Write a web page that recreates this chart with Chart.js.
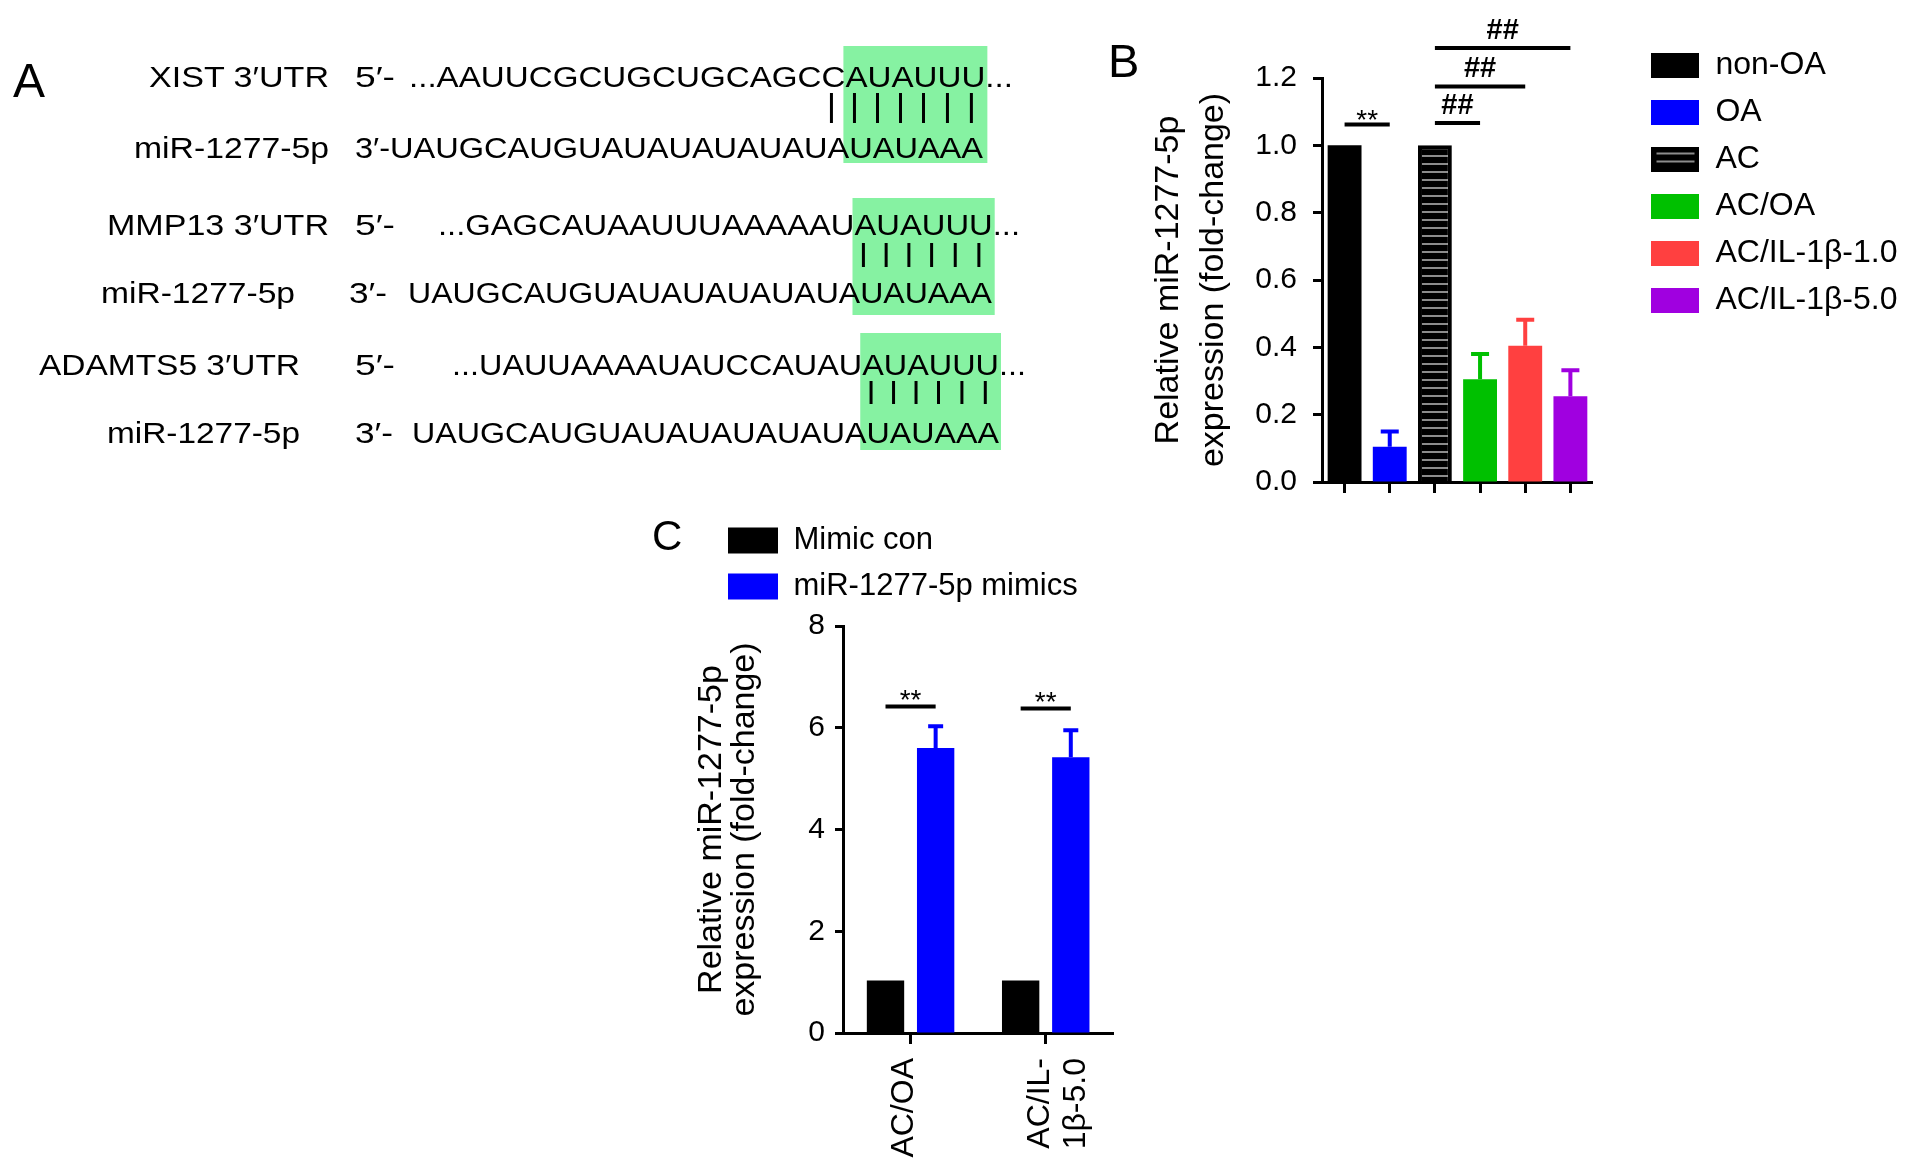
<!DOCTYPE html>
<html><head><meta charset="utf-8">
<script src="https://cdn.jsdelivr.net/npm/chart.js@4.4.1/dist/chart.umd.min.js"></script>
<style>
html,body{margin:0;padding:0;background:#fff;}
body{width:1913px;height:1172px;position:relative;overflow:hidden;}
#svgA{position:absolute;left:0;top:0;z-index:2;pointer-events:none;}
#cB{position:absolute;left:1090px;top:0;}
#cC{position:absolute;left:640px;top:500px;}
</style></head><body>
<svg id="svgA" width="1913" height="1172" xmlns="http://www.w3.org/2000/svg"></svg>
<canvas id="cB" width="823" height="530"></canvas>
<canvas id="cC" width="500" height="672"></canvas>
<script>
// ================= DATA =================
// Panel A: sequence alignment rows
const seqLabels = ['XIST 3′UTR', 'miR-1277-5p', 'MMP13 3′UTR', 'miR-1277-5p', 'ADAMTS5 3′UTR', 'miR-1277-5p'];
const seqEnds   = ['5′-', '3′-', '5′-', '3′-', '5′-', '3′-'];
const seqPre    = ['...AAUUCGCUGCUGCAGCC', 'UAUGCAUGUAUAUAUAUAUA', '...GAGCAUAAUUUAAAAAU', 'UAUGCAUGUAUAUAUAUAUA', '...UAUUAAAAUAUCCAUAU', 'UAUGCAUGUAUAUAUAUAUA'];
const seqMatch  = ['AUAUUU', 'UAUAAA', 'AUAUUU', 'UAUAAA', 'AUAUUU', 'UAUAAA'];
const seqPost   = ['...', '', '...', '', '...', ''];
const extraPairs = [1, 0, 0]; // extra base pairs drawn left of the seed for each alignment

// Panel B
const categoriesB = ['non-OA', 'OA', 'AC', 'AC/OA', 'AC/IL-1β-1.0', 'AC/IL-1β-5.0'];
const valuesB = [1.0, 0.105, 1.0, 0.305, 0.405, 0.255];
const errorsB = [0, 0.045, 0, 0.075, 0.077, 0.077];
const colorsB = ['#000000', '#0000FF', '#000000', '#00C000', '#FF4040', '#A000E0'];
const hatchB  = [false, false, true, false, false, false];
const ticksB  = [0, 0.2, 0.4, 0.6, 0.8, 1.0, 1.2];
const sigB = [
  {a: 0, b: 1, y: 1.062, text: '**'},
  {a: 2, b: 3, y: 1.066, text: '##'},
  {a: 2, b: 4, y: 1.175, text: '##'},
  {a: 2, b: 5, y: 1.289, text: '##'}
];

// Panel C
const categoriesC = ['AC/OA', 'AC/IL-1β-5.0'];
const tickLabelsC = [['AC/OA'], ['AC/IL-', '1β-5.0']];
const seriesC = ['Mimic con', 'miR-1277-5p mimics'];
const mimicCon = [1.03, 1.03];
const mimicConErr = [0, 0];
const mimics = [5.6, 5.42];
const mimicsErr = [0.43, 0.53];
const colorsC = ['#000000', '#0000FF'];
const ticksC = [0, 2, 4, 6, 8];
const sigC = [
  {group: 0, y: 6.42, text: '**'},
  {group: 1, y: 6.38, text: '**'}
];

// ================= PANEL A (SVG text) =================
const FAM = '"Liberation Sans", Arial, Helvetica, sans-serif';
const NS = 'http://www.w3.org/2000/svg';
const svg = document.getElementById('svgA');
// layout of the alignment rows (pixel positions, not data)
const rowPos = [
  {labelRight: 329, labelW: 180, endX: 355, endW: 40, seqX: 409, seqEnd: 1013, base: 86.5},
  {labelRight: 329, labelW: 195, endX: 355, endW: 0,  seqX: null, seqEnd: 983, base: 158},
  {labelRight: 329, labelW: 222, endX: 355, endW: 40, seqX: 438, seqEnd: 1020, base: 235},
  {labelRight: 295, labelW: 194, endX: 349, endW: 38, seqX: 408, seqEnd: 992, base: 303},
  {labelRight: 300, labelW: 261, endX: 355, endW: 40, seqX: 452, seqEnd: 1026, base: 375},
  {labelRight: 300, labelW: 193, endX: 355, endW: 38, seqX: 412, seqEnd: 999, base: 443}
];
const pairPos = [
  {pipeY: [93, 123], boxY: [46, 163]},
  {pipeY: [243, 267], boxY: [198, 315]},
  {pipeY: [381, 404], boxY: [333, 450]}
];
function el(tag, attrs, parent) {
  const e = document.createElementNS(NS, tag);
  for (const k in attrs) e.setAttribute(k, attrs[k]);
  if (parent) parent.appendChild(e);
  return e;
}
const g = el('g', {}, svg);
const boxLayer = el('g', {}, g);
const textLayer = el('g', {'font-family': FAM, 'font-size': 30, fill: '#000'}, g);
const seqEls = [];
seqLabels.forEach((lab, i) => {
  const p = rowPos[i];
  const t1 = el('text', {x: p.labelRight, y: p.base, 'text-anchor': 'end',
                         textLength: p.labelW, lengthAdjust: 'spacingAndGlyphs'}, textLayer);
  t1.textContent = lab;
  let st, offset;
  if (p.seqX === null) {
    st = el('text', {x: p.endX, y: p.base, textLength: p.seqEnd - p.endX, lengthAdjust: 'spacingAndGlyphs'}, textLayer);
    st.appendChild(document.createTextNode(seqEnds[i] + seqPre[i]));
    offset = seqEnds[i].length + seqPre[i].length;
  } else {
    const te = el('text', {x: p.endX, y: p.base, textLength: p.endW, lengthAdjust: 'spacingAndGlyphs'}, textLayer);
    te.textContent = seqEnds[i];
    st = el('text', {x: p.seqX, y: p.base, textLength: p.seqEnd - p.seqX, lengthAdjust: 'spacingAndGlyphs'}, textLayer);
    st.appendChild(document.createTextNode(seqPre[i]));
    offset = seqPre[i].length;
  }
  const ts = el('tspan', {}, st);
  ts.textContent = seqMatch[i];
  if (seqPost[i]) st.appendChild(document.createTextNode(seqPost[i]));
  seqEls.push({el: st, start: offset, len: seqMatch[i].length});
});
pairPos.forEach((pp, k) => {
  const top = seqEls[2 * k], bot = seqEls[2 * k + 1];
  const e1 = top.el.getExtentOfChar(top.start), e2 = bot.el.getExtentOfChar(bot.start);
  const f1 = top.el.getExtentOfChar(top.start + top.len - 1), f2 = bot.el.getExtentOfChar(bot.start + bot.len - 1);
  const x0 = Math.min(e1.x, e2.x) - 2;
  const x1 = Math.max(f1.x + f1.width, f2.x + f2.width) + 2;
  el('rect', {x: x0, y: pp.boxY[0], width: x1 - x0, height: pp.boxY[1] - pp.boxY[0], fill: '#86F2A2'}, boxLayer);
  for (let j = top.start - extraPairs[k]; j < top.start + top.len; j++) {
    const ex = top.el.getExtentOfChar(j);
    const cx = ex.x + ex.width / 2 - 2;
    el('line', {x1: cx, x2: cx, y1: pp.pipeY[0], y2: pp.pipeY[1], stroke: '#000', 'stroke-width': 3}, g);
  }
});
// panel letters
[['A', 13, 97, 48], ['B', 1108, 77, 47], ['C', 652, 550, 42]].forEach(([s, x, y, f]) => {
  const t = el('text', {x: x, y: y, 'font-family': FAM, 'font-size': f, fill: '#000'}, svg);
  t.textContent = s;
});

// ================= CHART HELPERS =================
Chart.defaults.font.family = FAM;
Chart.defaults.color = '#000';

function errorBarPlugin(lineWidth, cap) {
  return {
    id: 'errorBars',
    afterDatasetsDraw(chart) {
      const ctx = chart.ctx, ys = chart.scales.y;
      chart.data.datasets.forEach((ds, di) => {
        if (!ds.errors) return;
        chart.getDatasetMeta(di).data.forEach((bar, i) => {
          const e = ds.errors[i];
          if (!e) return;
          const top = ys.getPixelForValue(ds.data[i] + e);
          ctx.save();
          ctx.strokeStyle = Array.isArray(ds.errColors) ? ds.errColors[i] : ds.errColors;
          ctx.lineWidth = lineWidth;
          ctx.beginPath();
          ctx.moveTo(bar.x, bar.y); ctx.lineTo(bar.x, top);
          ctx.moveTo(bar.x - cap / 2, top); ctx.lineTo(bar.x + cap / 2, top);
          ctx.stroke();
          ctx.restore();
        });
      });
    }
  };
}
function sigPlugin(items, lineWidth, textStyle) {
  return {
    id: 'sigLines',
    afterDraw(chart) {
      const ctx = chart.ctx, ys = chart.scales.y;
      items.forEach(it => {
        const xa = chart.getDatasetMeta(it.a[0]).data[it.a[1]].x;
        const xb = chart.getDatasetMeta(it.b[0]).data[it.b[1]].x;
        const y = ys.getPixelForValue(it.y);
        ctx.save();
        ctx.strokeStyle = '#000'; ctx.lineWidth = lineWidth;
        ctx.beginPath(); ctx.moveTo(xa, y); ctx.lineTo(xb, y); ctx.stroke();
        const st = textStyle[it.text];
        ctx.fillStyle = '#000';
        ctx.font = (st.weight || 'normal') + ' ' + st.size + 'px ' + FAM;
        ctx.textAlign = 'center'; ctx.textBaseline = 'alphabetic';
        ctx.fillText(it.text, (xa + xb) / 2, y + st.dy);
        ctx.restore();
      });
    }
  };
}
function spacer(axis, position, size) {
  return {
    axis: axis, position: position, type: 'linear', display: true,
    grid: {display: false}, border: {display: false}, ticks: {display: false},
    afterFit(s) { if (axis === 'x') s.height = size; else s.width = size; }
  };
}

// ================= PANEL B =================
const ctxB = document.getElementById('cB').getContext('2d');
const tile = document.createElement('canvas'); tile.width = 8; tile.height = 8;
const tc = tile.getContext('2d');
tc.fillStyle = '#000'; tc.fillRect(0, 0, 8, 8);
tc.fillStyle = '#8c8c8c'; tc.fillRect(0, 3, 8, 2);
const hatchPattern = ctxB.createPattern(tile, 'repeat');
function swatch(color, hatch) {
  const c = document.createElement('canvas'); c.width = 48; c.height = 25;
  const x = c.getContext('2d');
  x.fillStyle = color; x.fillRect(0, 0, 48, 25);
  if (hatch) { x.fillStyle = '#8c8c8c'; x.fillRect(5, 6, 38, 2); x.fillRect(5, 14, 38, 2); }
  return c;
}
const swatchesB = colorsB.map((c, i) => swatch(c, hatchB[i]));

new Chart(ctxB, {
  type: 'bar',
  data: {
    labels: categoriesB,
    datasets: [{
      data: valuesB,
      errors: errorsB,
      errColors: colorsB,
      backgroundColor: colorsB.map((c, i) => hatchB[i] ? hatchPattern : c),
      borderColor: '#000000',
      borderWidth: hatchB.map(h => h ? 4 : 0),
      categoryPercentage: 1.0,
      barPercentage: 0.75
    }]
  },
  options: {
    responsive: false, animation: false, devicePixelRatio: 1,
    layout: {padding: {top: 34, left: 56, right: 5.5, bottom: 0}},
    plugins: {
      tooltip: {enabled: false},
      legend: {
        position: 'right', align: 'start', maxWidth: 400,
        labels: {
          usePointStyle: true, pointStyleWidth: 48, boxHeight: 25, padding: 15,
          font: {size: 32}, color: '#000',
          generateLabels: () => categoriesB.map((c, i) => ({
            text: c, pointStyle: swatchesB[i], fillStyle: colorsB[i], strokeStyle: colorsB[i],
            lineWidth: 0, hidden: false, index: i, datasetIndex: 0, fontColor: '#000'
          }))
        }
      }
    },
    scales: {
      x: {
        offset: true,
        grid: {display: true, drawOnChartArea: false, offset: false, tickLength: 11, tickWidth: 3, tickColor: '#000'},
        border: {display: true, color: '#000', width: 3},
        ticks: {callback: () => ''},
        afterFit(s) { s.height = 48; }
      },
      y: {
        min: 0, max: 1.2,
        afterBuildTicks(s) { s.ticks = ticksB.map(v => ({value: v})); },
        ticks: {callback: v => Number(v).toFixed(1), font: {size: 30}, color: '#000', padding: 16},
        grid: {drawOnChartArea: false, tickLength: 9, tickWidth: 3, tickColor: '#000'},
        border: {color: '#000', width: 3},
        title: {display: true, text: ['Relative miR-1277-5p', 'expression (fold-change)'],
                font: {size: 34, lineHeight: 1.32}, color: '#000', padding: 0},
        afterFit(s) { s.width = 176; }
      },
      padR: spacer('y', 'right', 43.5),
      padT: spacer('x', 'top', 44)
    }
  },
  plugins: [errorBarPlugin(4, 18), sigPlugin(sigB.map(s => ({a: [0, s.a], b: [0, s.b], y: s.y, text: s.text})), 4,
            {'**': {size: 28, dy: 5}, '##': {size: 29, dy: -9, weight: 'bold'}})]
});

// ================= PANEL C =================
const ctxC = document.getElementById('cC').getContext('2d');
new Chart(ctxC, {
  type: 'bar',
  data: {
    labels: categoriesC,
    datasets: [
      {label: seriesC[0], data: mimicCon, errors: mimicConErr, errColors: colorsC[0],
       backgroundColor: colorsC[0], borderWidth: 0, categoryPercentage: 0.742, barPercentage: 0.745},
      {label: seriesC[1], data: mimics, errors: mimicsErr, errColors: colorsC[1],
       backgroundColor: colorsC[1], borderWidth: 0, categoryPercentage: 0.742, barPercentage: 0.745}
    ]
  },
  options: {
    responsive: false, animation: false, devicePixelRatio: 1,
    layout: {padding: {top: 10, left: 73, right: 22, bottom: 0}},
    plugins: {
      tooltip: {enabled: false},
      legend: {
        position: 'top', align: 'start',
        labels: {boxWidth: 50, boxHeight: 26, padding: 15, font: {size: 31}, color: '#000'}
      }
    },
    scales: {
      x: {
        offset: true,
        grid: {display: true, drawOnChartArea: false, offset: false, tickLength: 11, tickWidth: 3, tickColor: '#000'},
        border: {display: true, color: '#000', width: 3},
        ticks: {minRotation: 90, maxRotation: 90, autoSkip: false, padding: 14, labelOffset: -6,
                font: {size: 32, lineHeight: 1.15}, color: '#000',
                callback: (v, i) => tickLabelsC[i]},
        afterFit(s) { s.height = 139; }
      },
      y: {
        min: 0, max: 8,
        afterBuildTicks(s) { s.ticks = ticksC.map(v => ({value: v})); },
        ticks: {font: {size: 30}, color: '#000', padding: 10},
        grid: {drawOnChartArea: false, tickLength: 8, tickWidth: 3, tickColor: '#000'},
        border: {color: '#000', width: 3},
        title: {display: true, text: ['Relative miR-1277-5p', 'expression (fold-change)'],
                font: {size: 34, lineHeight: 0.97}, color: '#000', padding: {top: -17.5, bottom: 0}},
        afterFit(s) { s.width = 130; }
      },
      padT: spacer('x', 'top', 14)
    }
  },
  plugins: [errorBarPlugin(4, 15), sigPlugin(sigC.map(s => ({a: [0, s.group], b: [1, s.group], y: s.y, text: s.text})), 4,
            {'**': {size: 28, dy: 3}})]
});
</script>
</body></html>
